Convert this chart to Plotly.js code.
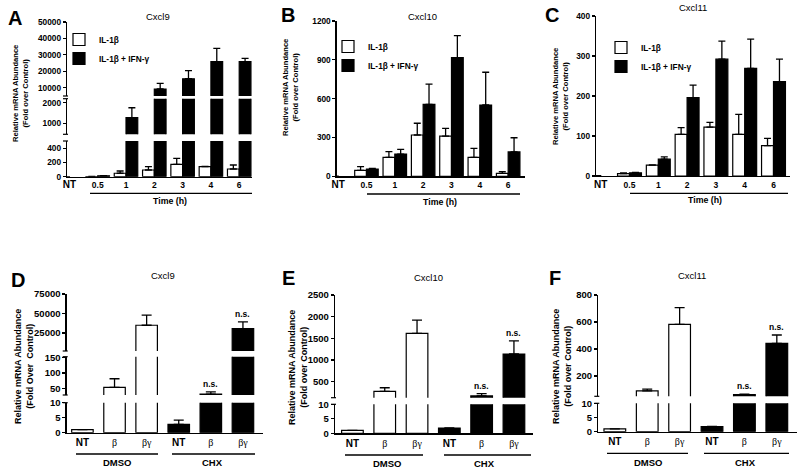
<!DOCTYPE html>
<html>
<head>
<meta charset="utf-8">
<script src="https://cdn.plot.ly/plotly-3.0.1.min.js"></script>
<style>html,body{margin:0;padding:0;background:#fff}#chart{width:800px;height:474px}</style>
</head>
<body>
<div id="chart"></div>
<script>
// ================= DATA =================
const timeLabels = ['NT', '0.5', '1', '2', '3', '4', '6'];
const seriesNames = ['IL-1β', 'IL-1β + IFN-γ'];

// Panel A – Cxcl9 time course
const cxcl9Il1b      = [1, 3, 48, 94, 173, 140, 108];
const cxcl9Il1bErr   = [0, 2, 32, 46, 84, 3, 56];
const cxcl9Combo     = [null, 12, 1266, 9260, 15500, 25900, 25900];
const cxcl9ComboErr  = [null, 4, 490, 3440, 4900, 8100, 2000];

// Panel B – Cxcl10 time course
const cxcl10Il1b     = [1, 46, 147, 319, 311, 147, 23];
const cxcl10Il1bErr  = [0, 28, 43, 91, 60, 69, 13];
const cxcl10Combo    = [null, 56, 172, 556, 917, 551, 188];
const cxcl10ComboErr = [null, 6, 36, 157, 170, 253, 110];

// Panel C – Cxcl11 time course
const cxcl11Il1b     = [1, 6, 27, 104, 122, 104, 76];
const cxcl11Il1bErr  = [0, 2, 1, 17, 12, 50, 18];
const cxcl11Combo    = [null, 8, 42, 196, 292, 269, 236];
const cxcl11ComboErr = [null, 1, 6, 31, 45, 73, 56];

// Panels D-F – DMSO vs CHX
const treatLabels = ['NT', 'β', 'βγ'];
const groupNames = ['DMSO', 'CHX'];
const chxSignificance = ['', 'n.s.', 'n.s.'];

const dCxcl9Dmso     = [1.0, 53, 35000];
const dCxcl9DmsoErr  = [0, 28, 12900];
const dCxcl9Chx      = [2.8, 31, 30700];
const dCxcl9ChxErr   = [1.4, 7, 8500];

const eCxcl10Dmso    = [1.0, 275, 1615];
const eCxcl10DmsoErr = [0, 85, 305];
const eCxcl10Chx     = [1.8, 170, 1138];
const eCxcl10ChxErr  = [0.1, 53, 302];

const fCxcl11Dmso    = [1.0, 90, 583];
const fCxcl11DmsoErr = [0, 13, 123];
const fCxcl11Chx     = [1.8, 62, 442];
const fCxcl11ChxErr  = [0.1, 3, 62];

// ================= HELPERS =================
const W = 800, H = 474;
const fx = p => p / W;
const fy = p => 1 - p / H;
const FONT = 'Liberation Sans, Arial, Helvetica, sans-serif';

const traces = [];
const layout = {
  width: W, height: H,
  margin: {l: 0, r: 0, t: 0, b: 0},
  paper_bgcolor: '#ffffff', plot_bgcolor: 'rgba(0,0,0,0)',
  font: {family: FONT, color: '#000'},
  barmode: 'group', bargap: 0.17, bargroupgap: 0,
  showlegend: true,
  annotations: [], shapes: []
};

function xAxis(key, anchor, left, right, range, cats, ticktext, fs) {
  layout[key] = {
    domain: [fx(left), fx(right)], anchor, type: 'category',
    categoryorder: 'array', categoryarray: cats, range,
    tickmode: 'array', tickvals: cats, ticktext,
    showline: true, linecolor: '#000', linewidth: 1.3, ticks: '',
    showgrid: false, zeroline: false, fixedrange: true,
    tickfont: {family: FONT, size: fs, weight: 'bold', color: '#000'}
  };
}
function yAxis(key, anchor, bottom, top, range, dtick, fs) {
  layout[key] = {
    domain: [fy(bottom), fy(top)], anchor, range, dtick, tick0: 0, tickformat: 'd',
    showline: true, linecolor: '#000', linewidth: 1.3,
    ticks: 'outside', ticklen: 3, tickwidth: 1.2, tickcolor: '#000',
    showgrid: false, zeroline: false, fixedrange: true,
    tickfont: {family: FONT, size: fs, weight: 'bold', color: '#000'}
  };
}
function addBars(o) {
  o.yaxes.forEach((ya, i) => {
    const t = {
      type: 'bar', x: o.x, y: o.y, name: o.name,
      xaxis: o.xaxis, yaxis: ya, legendgroup: o.group,
      showlegend: !!o.legend && i === 0,
      marker: {color: o.fill, line: {color: '#000', width: 1.2}},
      error_y: {type: 'data', array: o.err, arrayminus: o.err.map(() => 0), symmetric: false,
                visible: true, color: '#000', thickness: 1.3, width: o.capw},
      hoverinfo: 'skip'
    };
    if (o.legend) t.legend = o.legend;
    if (o.width) t.width = o.width;
    if (o.offsetgroup) t.offsetgroup = o.offsetgroup;
    traces.push(t);
  });
}
function note(text, x, y, size, bold, extra) {
  layout.annotations.push(Object.assign({
    text, x: fx(x), y: fy(y), xref: 'paper', yref: 'paper', showarrow: false,
    xanchor: 'center', yanchor: 'middle',
    font: {family: FONT, size, weight: bold ? 'bold' : 'normal', color: '#000'}
  }, extra || {}));
}
function hline(x0, x1, y, w) {
  layout.shapes.push({type: 'line', xref: 'paper', yref: 'paper',
    x0: fx(x0), x1: fx(x1), y0: fy(y), y1: fy(y), line: {color: '#000', width: w || 1.3}});
}
// small marks at the inner ends of broken axis segments
function breakMarks(axisX, segs) {
  segs.forEach((s, i) => {
    if (i > 0) hline(axisX - 4, axisX + 1, s.bottom, 1.2);
    if (i < segs.length - 1) hline(axisX - 4, axisX + 1, s.top, 1.2);
  });
}

const timeTickText = timeLabels.map(t => t === 'NT' ? '<span style="font-size:10px">NT</span>' : t);
const yTitleTop = 'Relative mRNA Abundance<br>(Fold over Control)';

// ================= PANELS A-C =================
function timePanel(p) {
  xAxis(p.xkey, p.yaxes[0], p.left, p.right, p.range, timeLabels, timeTickText, 8.5);
  p.segs.forEach(s => yAxis(s.key, p.xid, s.bottom, s.top, s.range, s.dtick, 8.3));
  breakMarks(p.left, p.segs);
  addBars({x: timeLabels, y: p.white, err: p.whiteErr, name: seriesNames[0], fill: '#ffffff',
           xaxis: p.xid, yaxes: p.yaxes, legend: p.legend, group: p.legend + 'a', capw: 3.5});
  addBars({x: timeLabels, y: p.black, err: p.blackErr, name: seriesNames[1], fill: '#000000',
           xaxis: p.xid, yaxes: p.yaxes, legend: p.legend, group: p.legend + 'b', capw: 3.5});
  layout[p.legend] = {
    x: fx(p.legX), y: fy(p.legY), xanchor: 'left', yanchor: 'top',
    bgcolor: 'rgba(0,0,0,0)', borderwidth: 0, tracegroupgap: 0,
    font: {family: FONT, size: 8.3, weight: 'bold', color: '#000'}
  };
}

timePanel({xkey: 'xaxis', xid: 'x', yaxes: ['y', 'y2', 'y3'], left: 67, right: 252, range: [-0.085, 6.452],
  segs: [{key: 'yaxis', bottom: 176.7, top: 141, range: [0, 500], dtick: 200},
         {key: 'yaxis2', bottom: 134.3, top: 98.7, range: [450, 2200], dtick: 1000},
         {key: 'yaxis3', bottom: 96, top: 22, range: [5000, 50000], dtick: 10000}],
  white: cxcl9Il1b, whiteErr: cxcl9Il1bErr, black: cxcl9Combo, blackErr: cxcl9ComboErr,
  legend: 'legend', legX: 59, legY: 25});

timePanel({xkey: 'xaxis2', xid: 'x2', yaxes: ['y4'], left: 336.7, right: 525, range: [-0.05, 6.594],
  segs: [{key: 'yaxis4', bottom: 176.3, top: 21, range: [0, 1200], dtick: 300}],
  white: cxcl10Il1b, whiteErr: cxcl10Il1bErr, black: cxcl10Combo, blackErr: cxcl10ComboErr,
  legend: 'legend2', legX: 328, legY: 32});

timePanel({xkey: 'xaxis3', xid: 'x3', yaxes: ['y5'], left: 596, right: 790, range: [-0.163, 6.573],
  segs: [{key: 'yaxis5', bottom: 176, top: 16, range: [0, 400], dtick: 100}],
  white: cxcl11Il1b, whiteErr: cxcl11Il1bErr, black: cxcl11Combo, blackErr: cxcl11ComboErr,
  legend: 'legend3', legX: 601, legY: 33});

// ================= PANELS D-F =================
const dmsoCats = treatLabels.map(t => groupNames[0] + ' ' + t);
const chxCats = treatLabels.map(t => groupNames[1] + ' ' + t);
const treatCats = dmsoCats.concat(chxCats);
const treatTickText = treatLabels.concat(treatLabels).map(t =>
  t === 'NT' ? '<b>NT</b>' : '<span style="font-family:Liberation Serif, serif">' + t + '</span>');

function treatPanel(p) {
  xAxis(p.xkey, p.yaxes[0], p.left, p.right, p.range, treatCats, treatTickText, 10);
  layout[p.xkey].tickfont.weight = 'normal';
  p.segs.forEach(s => yAxis(s.key, p.xid, s.bottom, s.top, s.range, s.dtick, 9.5));
  breakMarks(p.left, p.segs);
  addBars({x: dmsoCats, y: p.dmso, err: p.dmsoErr, name: groupNames[0], fill: '#ffffff',
           xaxis: p.xid, yaxes: p.yaxes, group: p.xid + 'd', width: 0.67, offsetgroup: p.xid, capw: 5});
  addBars({x: chxCats, y: p.chx, err: p.chxErr, name: groupNames[1], fill: '#000000',
           xaxis: p.xid, yaxes: p.yaxes, group: p.xid + 'c', width: 0.67, offsetgroup: p.xid, capw: 5});
  // significance labels above CHX bars
  chxSignificance.forEach((lab, i) => {
    if (!lab) return;
    const top = p.chx[i] + p.chxErr[i];
    const seg = p.segs.find(s => top >= s.range[0] && top <= s.range[1]);
    layout.annotations.push({text: lab, xref: p.xid, x: chxCats[i], yref: seg.key.replace('axis', ''), y: top,
      xanchor: 'center', yanchor: 'bottom', yshift: 1, showarrow: false,
      font: {family: FONT, size: 8.5, weight: 'bold', color: '#000'}});
  });
}

treatPanel({xkey: 'xaxis4', xid: 'x4', yaxes: ['y6', 'y7', 'y8'], left: 66.7, right: 263, range: [-0.49, 5.625],
  segs: [{key: 'yaxis6', bottom: 432.7, top: 402.7, range: [0, 10], dtick: 5},
         {key: 'yaxis7', bottom: 395, top: 356.7, range: [28, 153], dtick: 50},
         {key: 'yaxis8', bottom: 351, top: 294, range: [2000, 75000], dtick: 25000}],
  dmso: dCxcl9Dmso, dmsoErr: dCxcl9DmsoErr, chx: dCxcl9Chx, chxErr: dCxcl9ChxErr});

treatPanel({xkey: 'xaxis5', xid: 'x5', yaxes: ['y9', 'y10'], left: 335, right: 533, range: [-0.54, 5.59],
  segs: [{key: 'yaxis9', bottom: 433.3, top: 404.3, range: [0, 10], dtick: 5},
         {key: 'yaxis10', bottom: 397.7, top: 295, range: [130, 2500], dtick: 500}],
  dmso: eCxcl10Dmso, dmsoErr: eCxcl10DmsoErr, chx: eCxcl10Chx, chxErr: eCxcl10ChxErr});

treatPanel({xkey: 'xaxis6', xid: 'x6', yaxes: ['y11', 'y12'], left: 598.3, right: 797, range: [-0.51, 5.623],
  segs: [{key: 'yaxis11', bottom: 431.7, top: 403.3, range: [0, 10], dtick: 5},
         {key: 'yaxis12', bottom: 396.3, top: 295, range: [50, 800], dtick: 200}],
  dmso: fCxcl11Dmso, dmsoErr: fCxcl11DmsoErr, chx: fCxcl11Chx, chxErr: fCxcl11ChxErr});

// ================= TEXT & DECORATION =================
// panel letters
[['A', 15, 18], ['B', 288, 15], ['C', 552, 15], ['D', 18, 280], ['E', 288, 278], ['F', 555, 278]]
  .forEach(([t, x, y]) => note(t, x, y, 20, true));
// panel titles
[['Cxcl9', 158, 16], ['Cxcl10', 422, 16], ['Cxcl11', 693, 7], ['Cxcl9', 163, 275], ['Cxcl10', 428, 277], ['Cxcl11', 692, 275]]
  .forEach(([t, x, y]) => note(t, x, y, 9.5, false));
// y titles
note(yTitleTop, 20, 94, 7.6, true, {textangle: -90});
note(yTitleTop, 291, 88, 7.6, true, {textangle: -90});
note(yTitleTop, 560, 97, 7.6, true, {textangle: -90});
note('Relative mRNA Abundance<br>(Fold Over  Control)', 24, 367, 9, true, {textangle: -90});
note(yTitleTop, 298, 368, 9, true, {textangle: -90});
note(yTitleTop, 562, 367, 9, true, {textangle: -90});
// time axis labels
note('Time (h)', 170, 201, 8.8, true);
note('Time (h)', 440, 202, 8.8, true);
note('Time (h)', 705, 200, 8.8, true);
hline(90, 252, 193.3);
hline(367, 520, 194);
hline(630, 788, 193.3);
// group labels
note(groupNames[0], 117, 462, 9.5, true); note(groupNames[1], 212, 462, 9.5, true);
note(groupNames[0], 387, 463, 9.5, true); note(groupNames[1], 485, 463, 9.5, true);
note(groupNames[0], 648, 462, 9.5, true); note(groupNames[1], 745, 462, 9.5, true);
hline(76, 158, 454); hline(172, 255, 454);
hline(345, 423, 455); hline(444, 531, 455);
hline(607, 688, 453.3); hline(704, 789, 453.3);

Plotly.newPlot('chart', traces, layout, {staticPlot: true, displayModeBar: false});
</script>
</body>
</html>
